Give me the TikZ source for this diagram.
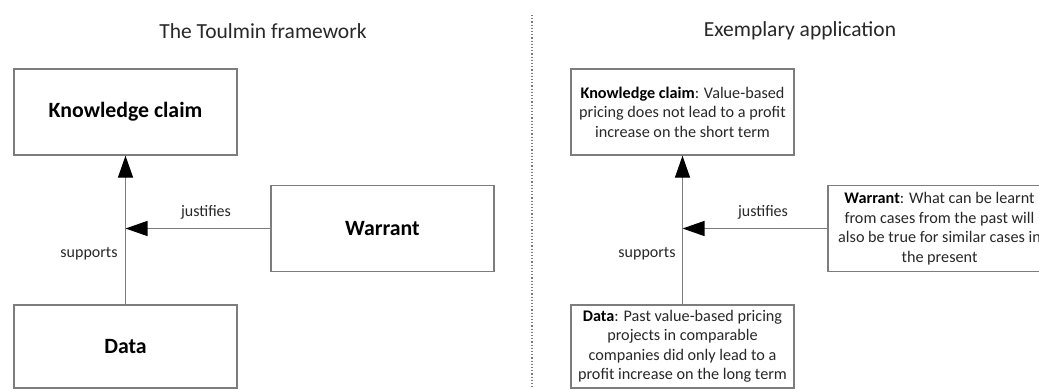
\documentclass[tikz,border=0pt]{standalone}
\usepackage{fontspec}
\setmainfont{Carlito}
\usepackage{xcolor}
\usetikzlibrary{
    arrows.meta,
    positioning
}
\definecolor{boxgray}{RGB}{125,125,125}
\definecolor{txtgray}{RGB}{40,40,40}
\tikzset{
    argbox/.style={draw=boxgray, line width=1.3pt, minimum width=223pt, minimum height=86pt, inner sep=0pt, align=center},
    bigtxt/.style={font=\fontsize{21.8}{25}\selectfont\bfseries, text=black},
    smalltxt/.style={font=\fontsize{16.2}{19.5}\selectfont, text=txtgray},
    lbl/.style={font=\fontsize{16}{18}\selectfont, text=txtgray},
    ttl/.style={font=\fontsize{21.5}{25}\selectfont, text=txtgray},
    arr/.style={draw=boxgray, line width=1.3pt, -{Triangle[length=22pt,width=15pt,color=black]}}
}

\begin{document}
\begin{tikzpicture}[x=1pt, y=-1pt]
                        \clip (0, 0) rectangle (1039, 389);
                        \fill[white] (0, 0) rectangle (1039, 389);

                        \node[ttl] (ti0) at (263, 31) {The Toulmin framework};
                        \node[ttl] (ti1) at (800, 31) {Exemplary application};

                        \coordinate (dv0) at (532, 15);
                        \coordinate (dv1) at (532, 389);
                        \draw[boxgray, line width=1.2pt, dotted] (dv0) -- (dv1);

                        \begin{scope}[shift={(0, 0)}]
                            \node[argbox, bigtxt] (kc0) at (125.5, 112) {Knowledge claim};
                            \node[argbox, bigtxt] (wr0) at (382.5, 228.5) {Warrant};
                            \node[argbox, bigtxt, minimum height=83pt] (dt0) at (125.5, 346.5) {Data};
                            \coordinate (jn0) at (125.5, 228.5);
                            \node[lbl] (js0) at (206, 212) {justifies};
                            \node[lbl] (sp0) at (89, 254) {supports};
                            \draw (dt0) edge[arr] (kc0);
                            \draw (wr0) edge[arr] (jn0);
                        \end{scope}
                        \begin{scope}[shift={(557, 0)}]
                            \node[argbox, smalltxt] (kc1) at (125.5, 112) {\textbf{\color{black}Knowledge claim}: Value-based\\pricing does not lead to a profit\\increase on the short term};
                            \node[argbox, smalltxt] (wr1) at (382.5, 228.5) {\textbf{\color{black}Warrant}: What can be learnt\\from cases from the past will\\also be true for similar cases in\\the present};
                            \node[argbox, smalltxt, minimum height=83pt] (dt1) at (125.5, 346.5) {\textbf{\color{black}Data}: Past value-based pricing\\projects in comparable\\companies did only lead to a\\profit increase on the long term};
                            \coordinate (jn1) at (125.5, 228.5);
                            \node[lbl] (js1) at (206, 212) {justifies};
                            \node[lbl] (sp1) at (90, 254) {supports};
                            \draw (dt1) edge[arr] (kc1);
                            \draw (wr1) edge[arr] (jn1);
                        \end{scope}
                    \end{tikzpicture}
\end{document}
